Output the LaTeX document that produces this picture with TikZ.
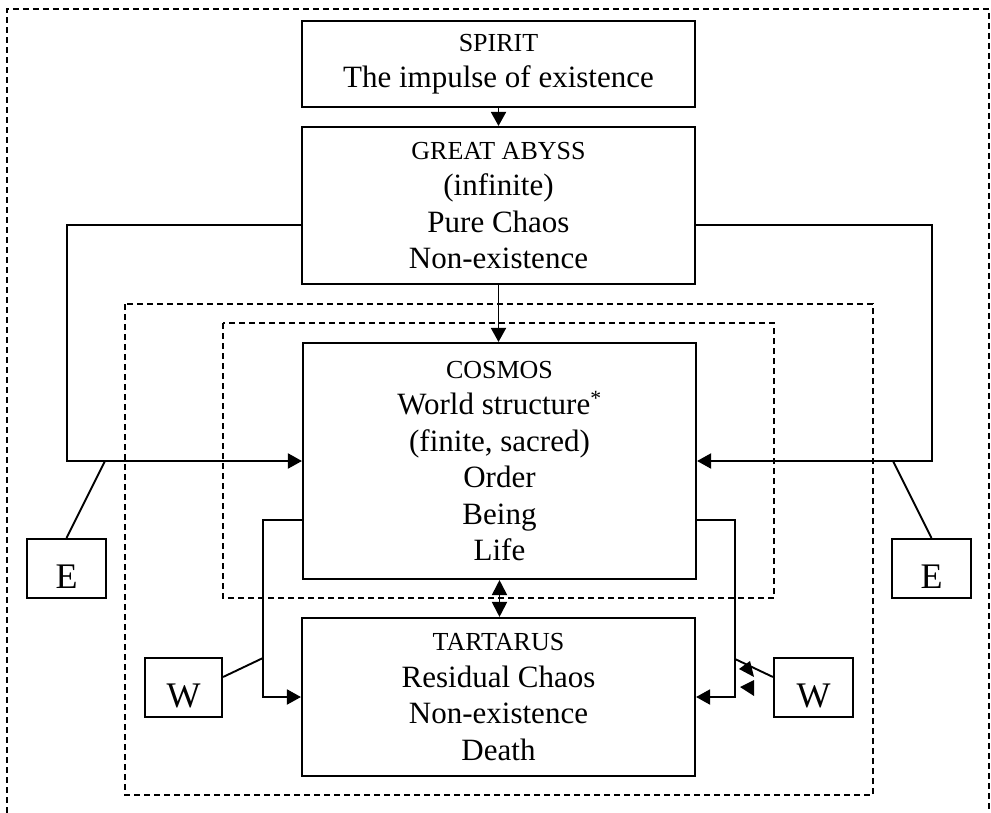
\documentclass[tikz,border=0pt]{standalone}
\usepackage{fontspec}
\setmainfont{Liberation Serif}
\usetikzlibrary{arrows.meta,calc}
\newcommand{\smtxt}[1]{{\fontsize{26}{36.5}\selectfont #1}}
\begin{document}
\begin{tikzpicture}[x=1pt,y=-1pt,
 box/.style={draw,line width=2.1pt,inner sep=0pt,align=center,font=\fontsize{31}{36.5}\selectfont},
 lbl/.style={draw,line width=2.1pt,inner sep=0pt,font=\fontsize{36}{40}\selectfont,text height=39pt,text depth=0pt},
 conn/.style={line width=1.9pt},
 arr/.style={conn,-{Triangle[length=14pt,width=15pt]}},
 dsh/.style={line width=1.7pt,dash pattern=on 6pt off 4pt}
]
\useasboundingbox (0,0) rectangle (991,813);
% dashed frames
\draw[dsh] (7,813) -- (7,9) -- (989,9) -- (989,813);
\draw[dsh] (125,304) rectangle (873,795);
\draw[dsh] (223,323) rectangle (774,598);
% boxes
\node[box,minimum width=393pt,minimum height=86pt] (spirit) at (498.5,64) {\smtxt{SPIRIT}\\The impulse of existence};
\node[box,minimum width=393pt,minimum height=157pt] (abyss) at (498.5,205.5) {\smtxt{GREAT ABYSS}\\(infinite)\\Pure Chaos\\Non-existence};
\node[box,minimum width=393pt,minimum height=236pt] (cosmos) at (499.5,461) {\smtxt{COSMOS}\\World structure\textsuperscript{*}\\(finite, sacred)\\Order\\Being\\Life};
\node[box,minimum width=393pt,minimum height=158pt] (tart) at (498.5,697) {\smtxt{TARTARUS}\\Residual Chaos\\Non-existence\\Death};
\node[lbl,minimum width=79pt,minimum height=59pt] (e1) at (66.5,568.5) {E};
\node[lbl,minimum width=79pt,minimum height=59pt] (e2) at (931.5,568.5) {E};
\node[lbl,minimum width=77pt,minimum height=59pt] (w1) at (183.5,687.5) {W};
\node[lbl,minimum width=79pt,minimum height=59pt] (w2) at (813.5,687.5) {W};
% connectors
\draw[arr] (spirit.south) -- (abyss.north);
\draw[arr] (abyss.south) -- (abyss.south |- cosmos.north);
\coordinate (ay) at (0,225);
\coordinate (lc) at (67,461);
\coordinate (rc) at (932,461);
\draw[arr] (abyss.west |- ay) -| (lc) -- (cosmos.west);
\draw[arr] (abyss.east |- ay) -| (rc) -- (cosmos.east);
\coordinate (le) at (105,461);
\coordinate (re) at (893,461);
\draw[conn] (e1.north) -- (le);
\draw[conn] (e2.north) -- (re);
\coordinate (by) at (0,520);
\coordinate (lb) at (263,697);
\coordinate (rb) at (735,697);
\draw[arr] (cosmos.west |- by) -| (lb) -- (tart.west);
\draw[arr] (cosmos.east |- by) -| (rb) -- (tart.east);
\coordinate (lw) at (263,658);
\coordinate (rw) at (735,659);
\draw[conn] ($(w1.east)+(0,-10.5)$) -- (lw);
\draw[conn] ($(w2.west)+(0,-10.5)$) -- (rw);
\draw[conn,{Triangle[length=15pt,width=15pt]}-{Triangle[length=15pt,width=15pt]}] (cosmos.south) -- (cosmos.south |- tart.north);
% stray arrowheads
\fill (739,669) -- (750,661) -- (754,677) -- cycle;
\fill (740,687) -- (754,680) -- (754,696) -- cycle;
\end{tikzpicture}
\end{document}
